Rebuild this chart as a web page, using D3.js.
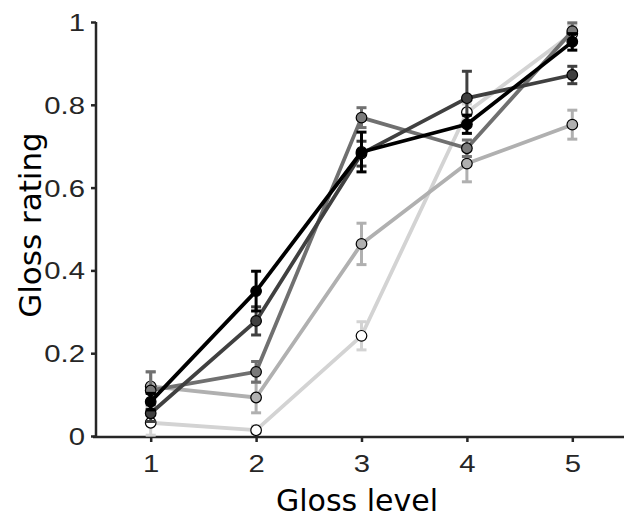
<!DOCTYPE html>
<html><head><meta charset="utf-8">
<script src="https://cdn.jsdelivr.net/npm/d3@7"></script>
<style>body{margin:0;background:#fff}svg{display:block}</style>
</head><body>
<svg id="c" width="624" height="518"></svg>
<script>
const glossLevels = [1, 2, 3, 4, 5];
const xTicks = [1, 2, 3, 4, 5];
const yTicks = [0, 0.2, 0.4, 0.6, 0.8, 1];
const yTickLabels = ["0", "0.2", "0.4", "0.6", "0.8", "1"];

const seriesLightest = [0.032, 0.014, 0.242, 0.782, 0.972];
const errLightest    = [0.03, 0.01, 0.034, 0.02, 0.02];
const seriesLight    = [0.120, 0.093, 0.464, 0.658, 0.752];
const errLight       = [0.035, 0.037, 0.05, 0.044, 0.035];
const seriesMid      = [0.110, 0.155, 0.769, 0.695, 0.978];
const errMid         = [0.045, 0.025, 0.024, 0.02, 0.02];
const seriesDark     = [0.055, 0.278, 0.682, 0.816, 0.872];
const errDark        = [0.02, 0.034, 0.03, 0.065, 0.021];
const seriesBlack    = [0.083, 0.350, 0.686, 0.753, 0.952];
const errBlack       = [0.02, 0.048, 0.048, 0.022, 0.02];

const series = [
  {v: seriesLightest, e: errLightest, line: "#d3d3d3", fill: "#ffffff"},
  {v: seriesLight,    e: errLight,    line: "#b0b0b0", fill: "#b0b0b0"},
  {v: seriesMid,      e: errMid,      line: "#707070", fill: "#7a7a7a"},
  {v: seriesDark,     e: errDark,     line: "#404040", fill: "#404040"},
  {v: seriesBlack,    e: errBlack,    line: "#000000", fill: "#000000"}
];

const svg = d3.select("#c");
const x = d3.scaleLinear().domain([0.5, 5.5]).range([98, 625]);
const y = d3.scaleLinear().domain([0, 1]).range([436, 22]);
const sx = 1.22;

// axes
const xAxis = svg.append("g").attr("transform", "translate(0,437)")
  .call(d3.axisBottom(x).tickValues(xTicks).tickSize(5).tickFormat(d3.format("d")));
xAxis.select(".domain").attr("d", "M93,0H624");
xAxis.selectAll(".tick text").attr("y", 35).attr("dy", 0).attr("transform", `scale(${sx},1)`);
const yAxis = svg.append("g").attr("transform", "translate(96,0)")
  .call(d3.axisLeft(y).tickValues(yTicks).tickSize(5).tickFormat((d,i) => yTickLabels[i]));
yAxis.select(".domain").attr("d", "M0,22V438");
yAxis.selectAll(".tick text").attr("x", -11 / sx).attr("dy", "0.35em").attr("transform", `scale(${sx},1)`);
[xAxis, yAxis].forEach(g => {
  g.attr("font-size", 24).attr("font-family", "'Liberation Sans', Arial, sans-serif");
  g.selectAll(".domain").attr("stroke", "#262626").attr("stroke-width", 2.5);
  g.selectAll(".tick line").attr("stroke", "#262626").attr("stroke-width", 2.5);
  g.selectAll(".tick text").attr("fill", "#262626");
});

svg.append("text").attr("x", 357).attr("y", 511)
  .attr("text-anchor", "middle").style("font-family", "'DejaVu Sans', sans-serif")
  .style("font-size", "30px").attr("fill", "#000").text("Gloss level");
svg.append("text").attr("transform", "translate(41,225) rotate(-90)")
  .attr("text-anchor", "middle").style("font-family", "'DejaVu Sans', sans-serif")
  .style("font-size", "31px").attr("fill", "#000").text("Gloss rating");

const line = d3.line().x((d,i) => x(glossLevels[i])).y(d => y(d));

series.forEach(s => {
  const g = svg.append("g");
  s.v.forEach((v, i) => {
    const cx = x(glossLevels[i]);
    const top = y(v + s.e[i]), bot = y(v - s.e[i]);
    g.append("line").attr("x1", cx).attr("x2", cx).attr("y1", top).attr("y2", bot)
      .attr("stroke", s.line).attr("stroke-width", 3);
    [top, bot].forEach(yy => g.append("line").attr("x1", cx - 5).attr("x2", cx + 5)
      .attr("y1", yy).attr("y2", yy).attr("stroke", s.line).attr("stroke-width", 3));
  });
  g.append("path").datum(s.v).attr("d", line).attr("fill", "none")
    .attr("stroke", s.line).attr("stroke-width", 3.8).attr("stroke-linejoin", "round");
  g.selectAll("circle").data(s.v).join("circle")
    .attr("cx", (d,i) => x(glossLevels[i])).attr("cy", d => y(d)).attr("r", 5.3)
    .attr("fill", s.fill).attr("stroke", "#000").attr("stroke-width", 1.2);
});
</script>
</body></html>
